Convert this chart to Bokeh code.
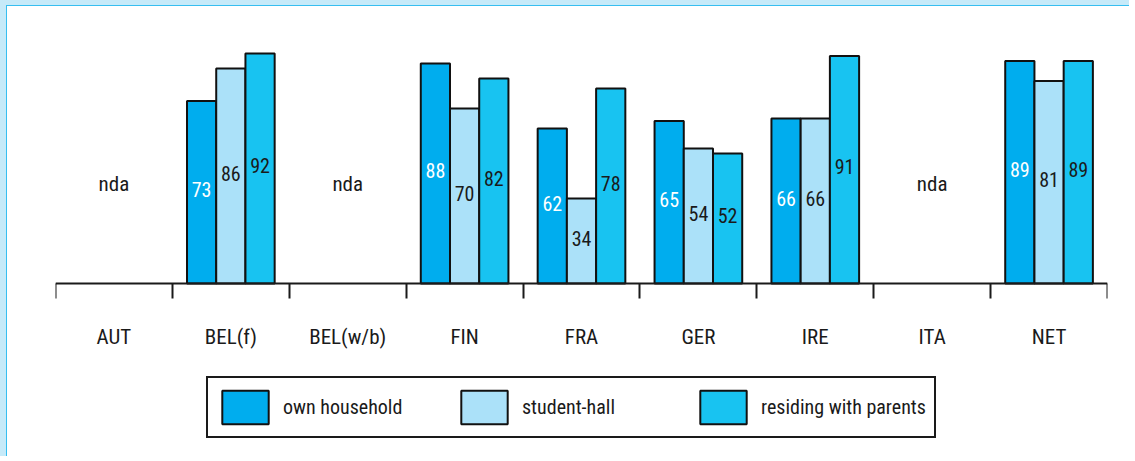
from bokeh.plotting import figure
from bokeh.models import (ColumnDataSource, Range1d, LinearAxis, FixedTicker, Legend, LegendItem)
from bokeh.transform import dodge
from bokeh.core.properties import value
from bokeh.embed import file_html
from bokeh.resources import INLINE

# ---- data ----
categories = ["AUT", "BEL(f)", "BEL(w/b)", "FIN", "FRA", "GER", "IRE", "ITA", "NET"]
own_household = [None, 73, None, 88, 62, 65, 66, None, 89]
student_hall = [None, 86, None, 70, 34, 54, 66, None, 81]
with_parents = [None, 92, None, 82, 78, 52, 91, None, 89]
series_names = ["own household", "student-hall", "residing with parents"]
missing_label = "nda"

# ---- style ----
FONT = "Roboto Condensed, Liberation Sans Narrow, DejaVu Sans Condensed, Roboto, sans-serif"
colors = ["#00adee", "#abe1f9", "#18c3f1"]
label_colors = ["#ffffff", "#1a1a1a", "#1a1a1a"]
INK = "#1a1a1a"
offsets = [-0.25, 0.0, 0.25]

n = len(categories)
# frame spans the whole lower area; the axis is pinned at y = 0 so the legend sits inside the frame
p = figure(width=1129, height=456, x_range=Range1d(0, n), y_range=Range1d(-71.2, 100),
           output_backend="svg", toolbar_location=None,
           x_axis_location=None, y_axis_location=None,
           min_border_left=49, min_border_right=28, min_border_top=28, min_border_bottom=0)
p.outline_line_color = None
p.background_fill_color = "white"
p.border_fill_color = None
p.styles = {"border-top": "5px solid #c6eaf9", "border-left": "6px solid #c6eaf9",
            "background-color": "white", "box-shadow": "inset 1px 1px 0 0 #36bef0"}
for g in p.grid:
    g.visible = False

# one axis: labels centred in each slot, boundary ticks as minor ticks
centers = [i + 0.5 for i in range(n)]
x_axis = LinearAxis(ticker=FixedTicker(ticks=centers, minor_ticks=list(range(n + 1))),
                    major_label_overrides={c: name for c, name in zip(centers, categories)},
                    fixed_location=0,
                    axis_line_color=INK, axis_line_width=2,
                    major_tick_line_color=None, major_tick_in=0, major_tick_out=0,
                    minor_tick_line_color=INK, minor_tick_line_width=2,
                    minor_tick_in=0, minor_tick_out=15,
                    major_label_standoff=26,
                    major_label_text_font=FONT, major_label_text_font_size="21px",
                    major_label_text_color=INK)
p.add_layout(x_axis, "below")

items = []
for k, (name, vals) in enumerate(zip(series_names, [own_household, student_hall, with_parents])):
    idx = [i for i, v in enumerate(vals) if v is not None]
    ys = [v for v in vals if v is not None]
    src = ColumnDataSource(dict(idx=idx, val=ys, half=[v / 2 for v in ys], lab=[str(v) for v in ys]))
    r = p.vbar(x=dodge("idx", 0.5 + offsets[k]), top="val", bottom=0, width=0.25, source=src,
               fill_color=colors[k], line_color="#111111", line_width=2)
    p.text(x=dodge("idx", 0.5 + offsets[k]), y="half", text="lab", source=src,
           text_align="center", text_baseline="middle", y_offset=-3,
           text_font=value(FONT), text_font_size="20px", text_color=label_colors[k])
    items.append(LegendItem(label=name, renderers=[r]))

nda_idx = [i for i, (a, b, d) in enumerate(zip(own_household, student_hall, with_parents))
           if a is None and b is None and d is None]
nda_src = ColumnDataSource(dict(idx=nda_idx, y=[40] * len(nda_idx), t=[missing_label] * len(nda_idx)))
p.text(x=dodge("idx", 0.5), y="y", text="t", source=nda_src,
       text_align="center", text_baseline="middle",
       text_font=value(FONT), text_font_size="21px", text_color=INK)

legend = Legend(items=items, orientation="horizontal", location=(151, 23),
                glyph_width=58, glyph_height=42, label_standoff=9, label_width=152,
                spacing=20, padding=8, margin=0,
                border_line_color=INK, border_line_width=2, border_line_alpha=1.0,
                background_fill_color="white", background_fill_alpha=1.0,
                label_text_font=FONT, label_text_font_size="20px", label_text_color=INK)
p.add_layout(legend, "center")

open("out.html", "w").write(file_html(p, INLINE))
